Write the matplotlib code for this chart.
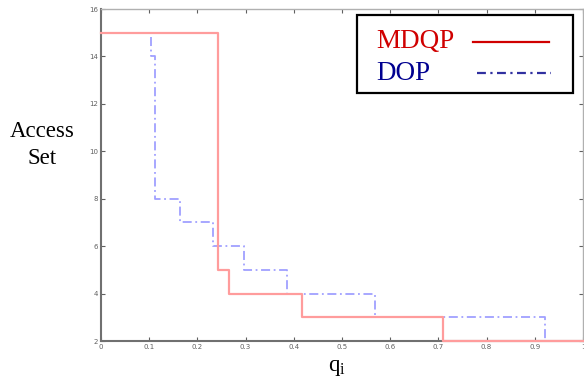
import matplotlib
matplotlib.use("Agg")
import matplotlib.pyplot as plt
from matplotlib.lines import Line2D
from matplotlib.patches import Rectangle

# Access set size vs q_i (step curves)
mdqp_q = [0.0, 0.243, 0.265, 0.416, 0.710, 1.0]
mdqp_set = [15, 5, 4, 3, 2, 2]

dop_q = [0.103, 0.103, 0.112, 0.163, 0.233, 0.296, 0.385, 0.568, 0.922]
dop_set = [14.8, 14, 8, 7, 6, 5, 4, 3, 2]

x_ticks = [0, 0.1, 0.2, 0.3, 0.4, 0.5, 0.6, 0.7, 0.8, 0.9, 1]
y_ticks = [2, 4, 6, 8, 10, 12, 14, 16]
series_names = ["MDQP", "DOP"]

W, H = 584, 385
fig = plt.figure(figsize=(W / 100, H / 100), dpi=100)
ax = fig.add_axes([101 / W, 1 - 341 / H, 482 / W, 332 / H])

ax.plot(mdqp_q, mdqp_set, drawstyle="steps-post", color="#ff9c9c", lw=1.6,
        clip_on=False, zorder=4)
ax.plot(dop_q, dop_set, drawstyle="steps-post", color="#a0a0ff", lw=1.3,
        dashes=(5, 2, 1, 2), zorder=3)

ax.set_xlim(0, 1)
ax.set_ylim(2, 16)
ax.set_xticks(x_ticks)
ax.set_xticklabels([f"{t:g}" for t in x_ticks])
ax.set_yticks(y_ticks)
ax.tick_params(direction="in", length=3, width=0.8, colors="#606060",
               labelsize=5, pad=2, top=True, right=True)
for s in ax.spines.values():
    s.set_color("#b0b0b0")
    s.set_linewidth(1.0)
    s.set_zorder(2)
ax.spines["left"].set_color("#707070")
ax.spines["bottom"].set_color("#707070")
ax.spines["left"].set_linewidth(1.5)
ax.spines["bottom"].set_linewidth(1.5)

serif = ["Liberation Serif", "DejaVu Serif"]


def px(x, y):
    # figure pixel position (from top-left) -> figure fraction
    return x / W, 1 - y / H


fig.text(*px(42, 145), "Access\nSet", ha="center", va="center",
         fontsize=16.5, family=serif, linespacing=1.4)
fig.text(*px(337, 368), r"q$_\mathregular{i}$", ha="center", va="center",
         fontsize=16.5, family=serif)

# legend drawn by hand: text on the left, line sample on the right
box_x0, box_y0 = px(357, 93)
box_x1, box_y1 = px(573, 15)
fig.patches.append(Rectangle((box_x0, box_y0), box_x1 - box_x0, box_y1 - box_y0,
                             transform=fig.transFigure, facecolor="white",
                             edgecolor="black", lw=1.6, zorder=5))
text_colors = ["#d00000", "#000090"]
line_colors = ["#d00000", "#3030a0"]
line_dashes = [None, (4, 2, 1, 2)]
rows_y = [42, 73]
line_x = [(473, 549), (477, 551)]
for name, tc, lc, ds, ry, (lx0, lx1) in zip(series_names, text_colors, line_colors,
                                            line_dashes, rows_y, line_x):
    fig.text(*px(376, ry), name, ha="left", va="center", color=tc,
             fontsize=19.5, family=serif, zorder=6)
    ln = Line2D([lx0 / W, lx1 / W], [1 - ry / H, 1 - ry / H], color=lc, lw=1.6,
                transform=fig.transFigure, zorder=6)
    if ds:
        ln.set_dashes(ds)
    fig.lines.append(ln)

fig.savefig("out.png", dpi=100)
